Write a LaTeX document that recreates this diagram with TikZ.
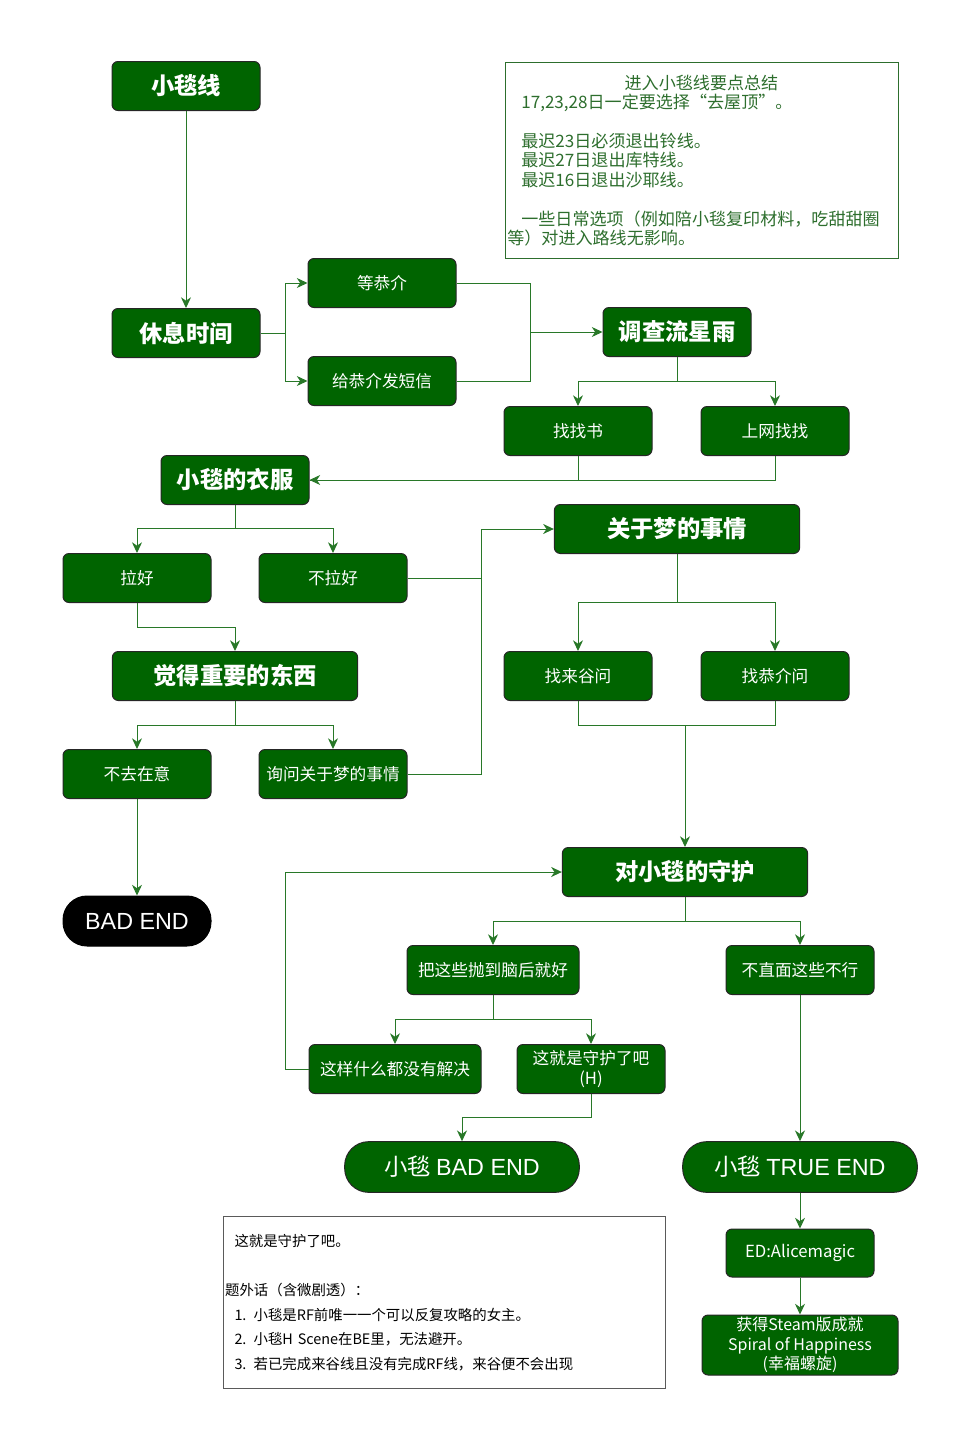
\documentclass[tikz,border=0pt]{standalone}
\usepackage{fontspec}
\setmainfont{Noto Sans CJK SC}
\newfontfamily\latinfont{Liberation Sans}
\usepackage{tikz}
\usetikzlibrary{arrows.meta}
\definecolor{boxgreen}{RGB}{0,100,0}
\definecolor{linkgreen}{RGB}{40,120,40}
\definecolor{notegreen}{RGB}{45,110,45}
\definecolor{notegrey}{RGB}{90,90,90}
\tikzset{
  box/.style={draw=black!85, fill=boxgreen, text=white, rounded corners=4.5pt, line width=0.75pt,
    minimum width=111pt, minimum height=36.75pt, inner sep=2pt, align=center,
    font=\fontsize{12.5}{15}\selectfont},
  widebox/.style={box, minimum width=129pt},
  titlebox/.style={box, font=\fontsize{17.5}{20}\selectfont\bfseries},
  widetitle/.style={titlebox, minimum width=184pt},
  endbox/.style={box, rounded corners=18pt, minimum width=176pt, minimum height=38pt,
    font=\fontsize{17.5}{20}\selectfont},
  badbox/.style={endbox, fill=black, draw=black, minimum width=111pt, minimum height=37.5pt},
  link/.style={draw=linkgreen, line width=0.75pt},
  linkarrow/.style={link, -{Stealth[length=8pt, width=7.5pt, inset=2.5pt]}},
}
\begin{document}
\begin{tikzpicture}[x=0.75pt, y=-0.75pt]
            \useasboundingbox (0, 0) rectangle (980, 1450);

            \node[titlebox] at (186, 86)    (start) {小毯线};
            \node[titlebox] at (186, 333)   (rest) {休息时间};
            \node[box] at (382, 283)        (wait) {等恭介};
            \node[box] at (382, 381)        (sms) {给恭介发短信};
            \node[titlebox] at (677, 332)   (meteor) {调查流星雨};
            \node[box] at (578, 431)        (book) {找找书};
            \node[box] at (775, 431)        (web) {上网找找};
            \node[titlebox] at (235, 480)   (clothes) {小毯的衣服};
            \node[box] at (137, 578)        (pull) {拉好};
            \node[box] at (333, 578)        (nopull) {不拉好};
            \node[widetitle] at (235, 676)  (important) {觉得重要的东西};
            \node[box] at (137, 774)        (ignore) {不去在意};
            \node[box, inner sep=1pt] at (333, 774) (askdream) {询问关于梦的事情};
            \node[widetitle] at (677, 529)  (dream) {关于梦的事情};
            \node[box] at (578, 676)        (askkuru) {找来谷问};
            \node[box] at (775, 676)        (askkyo) {找恭介问};
            \node[badbox] at (137, 921)     (bad) {\latinfont BAD END};
            \node[widetitle] at (685, 872)  (guard) {对小毯的守护};
            \node[widebox] at (493, 970)    (forget) {把这些抛到脑后就好};
            \node[box] at (800, 970)        (face) {不直面这些不行};
            \node[widebox] at (395, 1069)   (unsolved) {这样什么都没有解决};
            \node[box] at (591, 1069)       (protect) {这就是守护了吧\\(H)};
            \node[endbox] at (462, 1167)    (smallbad) {小毯 {\latinfont BAD END}};
            \node[endbox] at (800, 1167)    (trueend) {小毯 {\latinfont TRUE END}};
            \node[box, minimum height=36pt] at (800, 1253) (ed) {ED:Alicemagic};
            \node[box, minimum width=147pt, minimum height=45pt, inner ysep=0pt,
                  font=\fontsize{12}{14.6}\selectfont] at (800, 1345) (achieve)
                  {获得Steam版成就\\Spiral of Happiness\\(幸福螺旋)};

            \node[draw=notegreen, line width=0.75pt, text=notegreen, anchor=north west,
                  minimum width=294.75pt, minimum height=147pt, text width=292pt, inner xsep=1pt,
                  align=left, font=\fontsize{12.8}{14.6}\selectfont] at (505, 62) (summary)
                  {\hspace*{88pt}进入小毯线要点总结\\
                   \hspace*{10.5pt}17,23,28日一定要选择“去屋顶”。\\[14.6pt]
                   \hspace*{10.5pt}最迟23日必须退出铃线。\\
                   \hspace*{10.5pt}最迟27日退出库特线。\\
                   \hspace*{10.5pt}最迟16日退出沙耶线。\\[14.6pt]
                   \hspace*{10.5pt}一些日常选项（例如陪小毯复印材料，吃甜甜圈\\
                   等）对进入路线无影响。};
            \node[draw=notegrey, line width=0.75pt, anchor=north west,
                  minimum width=331.5pt, minimum height=129pt, text width=329pt, inner xsep=1pt,
                  align=left, font=\fontsize{10.8}{18.4}\selectfont] at (223, 1216) (aside)
                  {\hspace*{7pt}这就是守护了吧。\\[18.4pt]
                   题外话（含微剧透）：\\
                   \hspace*{7pt}1. 小毯是RF前唯一一个可以反复攻略的女主。\\
                   \hspace*{7pt}2. 小毯H Scene在BE里，无法避开。\\
                   \hspace*{7pt}3. 若已完成来谷线且没有完成RF线，来谷便不会出现};

            \coordinate (j1) at (285, 333);
            \coordinate (j2) at (530, 332);
            \coordinate (j3) at (677, 381);
            \coordinate (j4) at (235, 528);
            \coordinate (j5) at (137, 627);
            \coordinate (j6) at (235, 725);
            \coordinate (j7) at (481, 529);
            \coordinate (j8) at (677, 602);
            \coordinate (j9) at (685, 725);
            \coordinate (j10) at (685, 921);
            \coordinate (j11) at (493, 1019);
            \coordinate (j12) at (285, 1069);
            \coordinate (j13) at (591, 1117);

            \draw [linkarrow] (start) -- (rest);
            \draw [link] (rest) -- (j1);
            \draw [linkarrow] (j1) |- (wait);
            \draw [linkarrow] (j1) |- (sms);
            \draw [link] (wait) -| (j2);
            \draw [link] (sms) -| (j2);
            \draw [linkarrow] (j2) -- (meteor);
            \draw [link] (meteor) -- (j3);
            \draw [linkarrow] (j3) -| (book);
            \draw [linkarrow] (j3) -| (web);
            \draw [link] (book) |- (clothes);
            \draw [linkarrow] (web) |- (clothes);
            \draw [link] (clothes) -- (j4);
            \draw [linkarrow] (j4) -| (pull);
            \draw [linkarrow] (j4) -| (nopull);
            \draw [linkarrow] (pull) -- (j5) -| (important);
            \draw [link] (important) -- (j6);
            \draw [linkarrow] (j6) -| (ignore);
            \draw [linkarrow] (j6) -| (askdream);
            \draw [link] (nopull) -| (j7);
            \draw [link] (askdream) -| (j7);
            \draw [linkarrow] (j7) -- (dream);
            \draw [link] (dream) -- (j8);
            \draw [linkarrow] (j8) -| (askkuru);
            \draw [linkarrow] (j8) -| (askkyo);
            \draw [link] (askkuru) |- (j9);
            \draw [link] (askkyo) |- (j9);
            \draw [linkarrow] (j9) -- (guard);
            \draw [linkarrow] (ignore) -- (bad);
            \draw [link] (guard) -- (j10);
            \draw [linkarrow] (j10) -| (forget);
            \draw [linkarrow] (j10) -| (face);
            \draw [link] (forget) -- (j11);
            \draw [linkarrow] (j11) -| (unsolved);
            \draw [linkarrow] (j11) -| (protect);
            \draw [linkarrow] (unsolved) -- (j12) |- (guard);
            \draw [linkarrow] (protect) -- (j13) -| (smallbad);
            \draw [linkarrow] (face) -- (trueend);
            \draw [linkarrow] (trueend) -- (ed);
            \draw [linkarrow] (ed) -- (achieve);
        \end{tikzpicture}
\end{document}
